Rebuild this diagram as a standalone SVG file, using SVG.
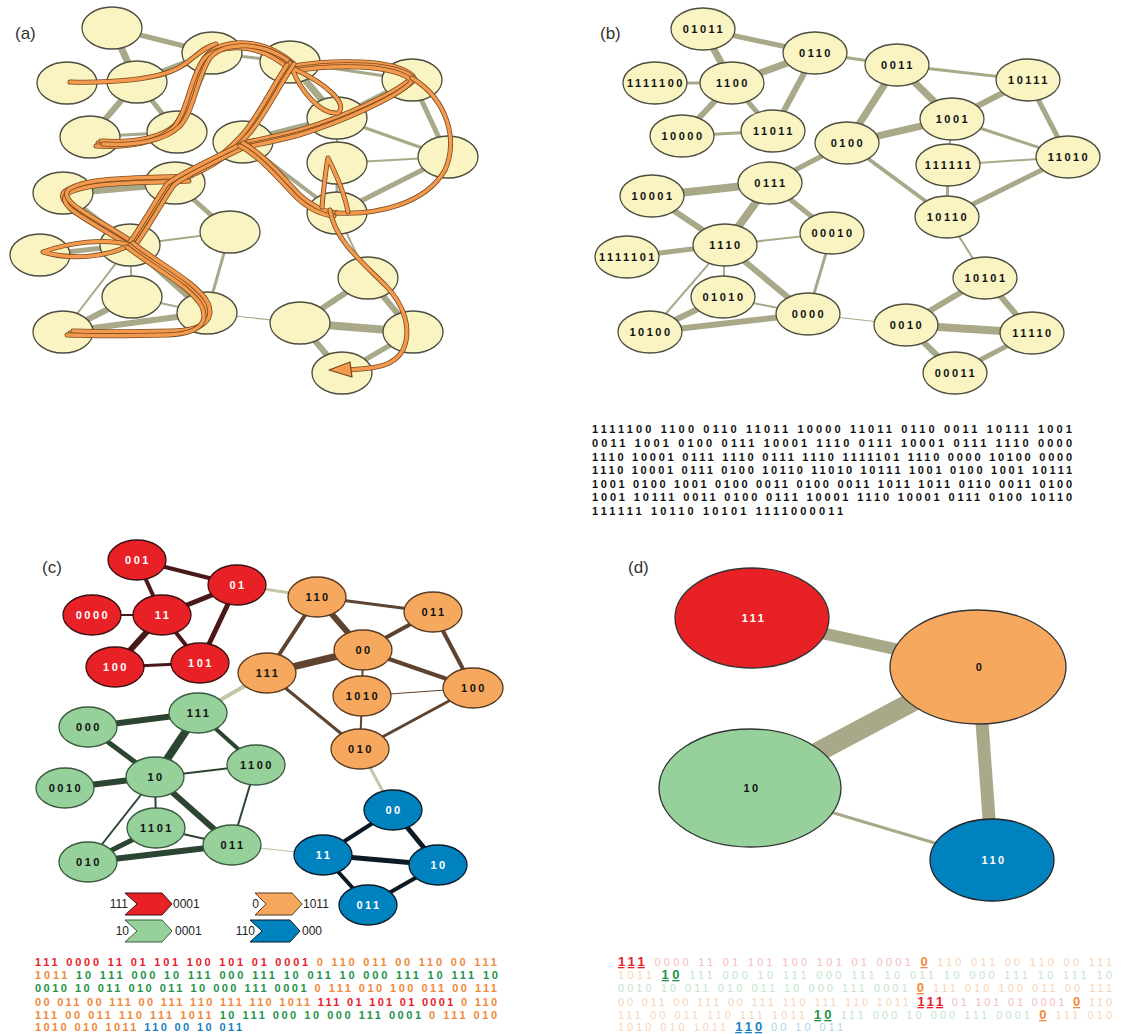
<svg xmlns="http://www.w3.org/2000/svg" xmlns:xlink="http://www.w3.org/1999/xlink" width="1130" height="1034" viewBox="0 0 1130 1034">
<style>
.bg{fill:#ffffff}
.pl{font-family:"Liberation Sans",Arial,sans-serif;font-size:17px;fill:#333}
.e{stroke:#a9a98a;fill:none}
.w1{stroke-width:1.2}.w2{stroke-width:2}.w3{stroke-width:3}.w4{stroke-width:4}.w5{stroke-width:5}.w6{stroke-width:6}.w7{stroke-width:7}.w8{stroke-width:8}
.ny{fill:#f9f4c2;stroke:#4d4d40;stroke-width:1.3}
.lb{font-family:"Liberation Sans",Arial,sans-serif;font-size:11px;font-weight:bold;letter-spacing:2.5px;text-anchor:middle;fill:#111}
.lw{fill:#fff}
.er{stroke:#4a1818}.eo{stroke:#5e4430}.eg{stroke:#2c4432}.eb{stroke:#0c1a26}.ei{stroke:#c2c7a8}
.nr{fill:#e82127;stroke:#3a1010;stroke-width:1.3}
.no{fill:#f6a95e;stroke:#5a3a20;stroke-width:1.3}
.ng{fill:#96d09a;stroke:#3a5a3e;stroke-width:1.3}
.nb{fill:#0082be;stroke:#0a1a28;stroke-width:1.3}
.to{fill:none;stroke:#7a4a1e;stroke-width:5;stroke-linecap:round;stroke-linejoin:round}
.ti{fill:none;stroke:#f39a4f;stroke-width:3.4;stroke-linecap:round;stroke-linejoin:round}
.tb{font-family:"Liberation Sans",Arial,sans-serif;font-size:11px;font-weight:bold;fill:#111}
.tc{font-family:"Liberation Sans",Arial,sans-serif;font-size:11px;font-weight:bold}
.td{font-family:"Liberation Sans",Arial,sans-serif;font-size:11px}
.cr{fill:#e8202a}.co{fill:#f0893a}.cg{fill:#22924a}.cb{fill:#1a7fc0}
.fr{fill:#f7b9bd}.fo{fill:#fbd3b4}.fg{fill:#c3e5cb}.fb{fill:#acd5ee}
.hl{font-weight:bold;font-size:13px;text-decoration:underline}
.lg{font-family:"Liberation Sans",Arial,sans-serif;font-size:12px;fill:#222}
</style>
<defs>
<path id="p1" d="M 70 82 C 110 83, 158 80, 180 67 C 195 58, 203 47, 216 44"/>
<path id="p2" d="M 98 143 C 130 145, 160 140, 175 125 C 190 108, 192 75, 205 57 C 218 40, 262 38, 293 68"/>
<path id="p3" d="M 293 66 C 330 60, 395 58, 413 76 C 400 92, 340 118, 300 130 C 275 137, 255 140, 243 143"/>
<path id="p4" d="M 292 68 C 300 90, 320 115, 338 113 C 348 105, 330 85, 292 68"/>
<path id="p5" d="M 290 63 C 272 90, 258 120, 243 135 C 225 155, 200 172, 170 180"/>
<path id="p6" d="M 187 178 C 150 180, 80 178, 64 192 C 55 205, 90 218, 130 245"/>
<path id="p7" d="M 130 245 C 145 225, 158 200, 170 183 C 180 175, 200 165, 245 143"/>
<path id="p8" d="M 130 245 C 105 238, 70 242, 43 252 C 70 260, 105 258, 130 245"/>
<path id="p9" d="M 130 245 C 155 265, 195 285, 205 305 C 212 322, 200 332, 170 333 C 130 334, 95 334, 70 333"/>
<path id="p10" d="M 243 143 C 265 155, 285 180, 300 195 C 312 206, 325 212, 337 213"/>
<path id="p11" d="M 337 213 C 375 215, 425 205, 445 170 C 458 140, 448 100, 412 78"/>
<path id="p12" d="M 322 207 C 324 185, 326 168, 328 158 C 334 170, 345 195, 348 212"/>
<path id="p13" d="M 330 210 C 335 240, 360 260, 385 285 C 405 305, 412 330, 403 350 C 393 368, 372 368, 348 370"/>
</defs>
<rect class="bg" x="0" y="0" width="1130" height="1034"/>

<text class="pl" x="15" y="39">(a)</text>
<text class="pl" x="600" y="39">(b)</text>
<text class="pl" x="42" y="573">(c)</text>
<text class="pl" x="628" y="573">(d)</text>

<!-- Panel (a) connectors -->
<g id="a-edges">
<line class="e w7" x1="112" y1="28" x2="137" y2="82"/>
<line class="e w5" x1="112" y1="28" x2="212" y2="53"/>
<line class="e w3" x1="67" y1="83" x2="137" y2="82"/>
<line class="e w7" x1="137" y1="82" x2="212" y2="53"/>
<line class="e w6" x1="137" y1="82" x2="90" y2="137"/>
<line class="e w5" x1="137" y1="82" x2="177" y2="132"/>
<line class="e w6" x1="212" y1="53" x2="177" y2="132"/>
<line class="e w3" x1="90" y1="137" x2="177" y2="132"/>
<line class="e w3" x1="212" y1="53" x2="290" y2="62"/>
<line class="e w7" x1="290" y1="62" x2="243" y2="142"/>
<line class="e w7" x1="290" y1="62" x2="337" y2="118"/>
<line class="e w3" x1="290" y1="62" x2="412" y2="80"/>
<line class="e w6" x1="412" y1="80" x2="337" y2="118"/>
<line class="e w5" x1="412" y1="80" x2="448" y2="157"/>
<line class="e w7" x1="243" y1="142" x2="337" y2="118"/>
<line class="e w2" x1="337" y1="118" x2="337" y2="163"/>
<line class="e w3" x1="337" y1="118" x2="448" y2="157"/>
<line class="e w2" x1="337" y1="163" x2="448" y2="157"/>
<line class="e w3" x1="337" y1="163" x2="337" y2="213"/>
<line class="e w5" x1="448" y1="157" x2="337" y2="213"/>
<line class="e w4" x1="243" y1="142" x2="337" y2="213"/>
<line class="e w5" x1="243" y1="142" x2="175" y2="183"/>
<line class="e w8" x1="175" y1="183" x2="63" y2="193"/>
<line class="e w8" x1="175" y1="183" x2="130" y2="245"/>
<line class="e w5" x1="175" y1="183" x2="230" y2="232"/>
<line class="e w6" x1="63" y1="193" x2="130" y2="245"/>
<line class="e w5" x1="40" y1="255" x2="130" y2="245"/>
<line class="e w2" x1="130" y1="245" x2="230" y2="232"/>
<line class="e w2" x1="130" y1="245" x2="132" y2="297"/>
<line class="e w6" x1="130" y1="245" x2="207" y2="313"/>
<line class="e w2" x1="130" y1="245" x2="63" y2="332"/>
<line class="e w3" x1="230" y1="232" x2="207" y2="313"/>
<line class="e w6" x1="132" y1="297" x2="63" y2="332"/>
<line class="e w2" x1="132" y1="297" x2="207" y2="313"/>
<line class="e w6" x1="63" y1="332" x2="207" y2="313"/>
<line class="e w1" x1="207" y1="313" x2="300" y2="323"/>
<line class="e w2" x1="337" y1="213" x2="368" y2="278"/>
<line class="e w6" x1="368" y1="278" x2="300" y2="323"/>
<line class="e w6" x1="368" y1="278" x2="413" y2="332"/>
<line class="e w8" x1="300" y1="323" x2="413" y2="332"/>
<line class="e w6" x1="300" y1="323" x2="342" y2="373"/>
<line class="e w5" x1="413" y1="332" x2="342" y2="373"/>
</g>

<!-- Panel (a) nodes -->
<g id="a-nodes">
<g id="a-01011"><ellipse class="ny" cx="112" cy="28" rx="30" ry="21"/></g>
<g id="a-0110"><ellipse class="ny" cx="212" cy="53" rx="30" ry="21"/></g>
<g id="a-0011"><ellipse class="ny" cx="290" cy="62" rx="30" ry="21"/></g>
<g id="a-10111"><ellipse class="ny" cx="412" cy="80" rx="30" ry="21"/></g>
<g id="a-1111100"><ellipse class="ny" cx="67" cy="83" rx="30" ry="21"/></g>
<g id="a-1100"><ellipse class="ny" cx="137" cy="82" rx="30" ry="21"/></g>
<g id="a-1001"><ellipse class="ny" cx="337" cy="118" rx="30" ry="21"/></g>
<g id="a-10000"><ellipse class="ny" cx="90" cy="137" rx="30" ry="21"/></g>
<g id="a-11011"><ellipse class="ny" cx="177" cy="132" rx="30" ry="21"/></g>
<g id="a-0100"><ellipse class="ny" cx="243" cy="142" rx="30" ry="21"/></g>
<g id="a-111111"><ellipse class="ny" cx="337" cy="163" rx="30" ry="21"/></g>
<g id="a-11010"><ellipse class="ny" cx="448" cy="157" rx="30" ry="21"/></g>
<g id="a-10001"><ellipse class="ny" cx="63" cy="193" rx="30" ry="21"/></g>
<g id="a-0111"><ellipse class="ny" cx="175" cy="183" rx="30" ry="21"/></g>
<g id="a-10110"><ellipse class="ny" cx="337" cy="213" rx="30" ry="21"/></g>
<g id="a-1110"><ellipse class="ny" cx="130" cy="245" rx="30" ry="21"/></g>
<g id="a-00010"><ellipse class="ny" cx="230" cy="232" rx="30" ry="21"/></g>
<g id="a-1111101"><ellipse class="ny" cx="40" cy="255" rx="30" ry="21"/></g>
<g id="a-10101"><ellipse class="ny" cx="368" cy="278" rx="30" ry="21"/></g>
<g id="a-01010"><ellipse class="ny" cx="132" cy="297" rx="30" ry="21"/></g>
<g id="a-0000"><ellipse class="ny" cx="207" cy="313" rx="30" ry="21"/></g>
<g id="a-10100"><ellipse class="ny" cx="63" cy="332" rx="30" ry="21"/></g>
<g id="a-0010"><ellipse class="ny" cx="300" cy="323" rx="30" ry="21"/></g>
<g id="a-11110"><ellipse class="ny" cx="413" cy="332" rx="30" ry="21"/></g>
<g id="a-00011"><ellipse class="ny" cx="342" cy="373" rx="30" ry="21"/></g>
</g>

<!-- Panel (a) walk -->
<g id="a-walk">
<use xlink:href="#p1" class="to"/><use xlink:href="#p1" class="ti"/>
<use xlink:href="#p2" class="to"/><use xlink:href="#p2" class="ti"/>
<use xlink:href="#p2" class="to" transform="translate(3,-2)"/><use xlink:href="#p2" class="ti" transform="translate(3,-2)"/>
<use xlink:href="#p2" class="to" transform="translate(-2,3)"/><use xlink:href="#p2" class="ti" transform="translate(-2,3)"/>
<use xlink:href="#p2" class="to" transform="translate(5,1)"/><use xlink:href="#p2" class="ti" transform="translate(5,1)"/>
<use xlink:href="#p3" class="to"/><use xlink:href="#p3" class="ti"/>
<use xlink:href="#p3" class="to" transform="translate(2,3)"/><use xlink:href="#p3" class="ti" transform="translate(2,3)"/>
<use xlink:href="#p3" class="to" transform="translate(-1,5)"/><use xlink:href="#p3" class="ti" transform="translate(-1,5)"/>
<use xlink:href="#p4" class="to"/><use xlink:href="#p4" class="ti"/>
<use xlink:href="#p5" class="to"/><use xlink:href="#p5" class="ti"/>
<use xlink:href="#p5" class="to" transform="translate(4,1)"/><use xlink:href="#p5" class="ti" transform="translate(4,1)"/>
<use xlink:href="#p5" class="to" transform="translate(-3,2)"/><use xlink:href="#p5" class="ti" transform="translate(-3,2)"/>
<use xlink:href="#p6" class="to"/><use xlink:href="#p6" class="ti"/>
<use xlink:href="#p6" class="to" transform="translate(2,3)"/><use xlink:href="#p6" class="ti" transform="translate(2,3)"/>
<use xlink:href="#p6" class="to" transform="translate(4,-2)"/><use xlink:href="#p6" class="ti" transform="translate(4,-2)"/>
<use xlink:href="#p7" class="to"/><use xlink:href="#p7" class="ti"/>
<use xlink:href="#p7" class="to" transform="translate(4,2)"/><use xlink:href="#p7" class="ti" transform="translate(4,2)"/>
<use xlink:href="#p7" class="to" transform="translate(-3,1)"/><use xlink:href="#p7" class="ti" transform="translate(-3,1)"/>
<use xlink:href="#p8" class="to"/><use xlink:href="#p8" class="ti"/>
<use xlink:href="#p9" class="to"/><use xlink:href="#p9" class="ti"/>
<use xlink:href="#p9" class="to" transform="translate(3,-2)"/><use xlink:href="#p9" class="ti" transform="translate(3,-2)"/>
<use xlink:href="#p9" class="to" transform="translate(-3,2)"/><use xlink:href="#p9" class="ti" transform="translate(-3,2)"/>
<use xlink:href="#p10" class="to"/><use xlink:href="#p10" class="ti"/>
<use xlink:href="#p10" class="to" transform="translate(-3,3)"/><use xlink:href="#p10" class="ti" transform="translate(-3,3)"/>
<use xlink:href="#p11" class="to"/><use xlink:href="#p11" class="ti"/>
<use xlink:href="#p12" class="to"/><use xlink:href="#p12" class="ti"/>
<use xlink:href="#p13" class="to"/><use xlink:href="#p13" class="ti"/>
<polygon points="329,370 350,362 352,377" fill="#f39a4f" stroke="#7a4a1e" stroke-width="1.3" stroke-linejoin="round"/>
</g>

<!-- Panel (b) connectors -->
<g id="b-edges">
<line class="e w7" x1="703" y1="29" x2="732" y2="83"/>
<line class="e w5" x1="703" y1="29" x2="815" y2="53"/>
<line class="e w3" x1="655" y1="83" x2="732" y2="83"/>
<line class="e w7" x1="732" y1="83" x2="815" y2="53"/>
<line class="e w6" x1="732" y1="83" x2="682" y2="136"/>
<line class="e w5" x1="732" y1="83" x2="773" y2="131"/>
<line class="e w6" x1="815" y1="53" x2="773" y2="131"/>
<line class="e w3" x1="682" y1="136" x2="773" y2="131"/>
<line class="e w3" x1="815" y1="53" x2="897" y2="65"/>
<line class="e w7" x1="897" y1="65" x2="847" y2="143"/>
<line class="e w7" x1="897" y1="65" x2="952" y2="119"/>
<line class="e w3" x1="897" y1="65" x2="1028" y2="80"/>
<line class="e w6" x1="1028" y1="80" x2="952" y2="119"/>
<line class="e w5" x1="1028" y1="80" x2="1068" y2="157"/>
<line class="e w7" x1="847" y1="143" x2="952" y2="119"/>
<line class="e w2" x1="952" y1="119" x2="948" y2="165"/>
<line class="e w3" x1="952" y1="119" x2="1068" y2="157"/>
<line class="e w2" x1="948" y1="165" x2="1068" y2="157"/>
<line class="e w3" x1="948" y1="165" x2="947" y2="217"/>
<line class="e w5" x1="1068" y1="157" x2="947" y2="217"/>
<line class="e w4" x1="847" y1="143" x2="947" y2="217"/>
<line class="e w5" x1="847" y1="143" x2="770" y2="183"/>
<line class="e w8" x1="770" y1="183" x2="652" y2="196"/>
<line class="e w8" x1="770" y1="183" x2="725" y2="245"/>
<line class="e w5" x1="770" y1="183" x2="832" y2="233"/>
<line class="e w6" x1="652" y1="196" x2="725" y2="245"/>
<line class="e w5" x1="627" y1="257" x2="725" y2="245"/>
<line class="e w2" x1="725" y1="245" x2="832" y2="233"/>
<line class="e w2" x1="725" y1="245" x2="723" y2="297"/>
<line class="e w6" x1="725" y1="245" x2="808" y2="314"/>
<line class="e w2" x1="725" y1="245" x2="650" y2="332"/>
<line class="e w3" x1="832" y1="233" x2="808" y2="314"/>
<line class="e w6" x1="723" y1="297" x2="650" y2="332"/>
<line class="e w2" x1="723" y1="297" x2="808" y2="314"/>
<line class="e w6" x1="650" y1="332" x2="808" y2="314"/>
<line class="e w1" x1="808" y1="314" x2="906" y2="325"/>
<line class="e w2" x1="947" y1="217" x2="985" y2="278"/>
<line class="e w6" x1="985" y1="278" x2="906" y2="325"/>
<line class="e w6" x1="985" y1="278" x2="1032" y2="333"/>
<line class="e w8" x1="906" y1="325" x2="1032" y2="333"/>
<line class="e w6" x1="906" y1="325" x2="955" y2="373"/>
<line class="e w5" x1="1032" y1="333" x2="955" y2="373"/>
</g>

<!-- Panel (b) nodes -->
<g id="b-nodes">
<g id="b-01011"><ellipse class="ny" cx="703" cy="29" rx="32" ry="21"/><text class="lb" x="704" y="33">01011</text></g>
<g id="b-0110"><ellipse class="ny" cx="815" cy="53" rx="32" ry="21"/><text class="lb" x="816" y="57">0110</text></g>
<g id="b-0011"><ellipse class="ny" cx="897" cy="65" rx="32" ry="21"/><text class="lb" x="898" y="69">0011</text></g>
<g id="b-10111"><ellipse class="ny" cx="1028" cy="80" rx="32" ry="21"/><text class="lb" x="1029" y="84">10111</text></g>
<g id="b-1111100"><ellipse class="ny" cx="655" cy="83" rx="32" ry="21"/><text class="lb" x="656" y="87">1111100</text></g>
<g id="b-1100"><ellipse class="ny" cx="732" cy="83" rx="32" ry="21"/><text class="lb" x="733" y="87">1100</text></g>
<g id="b-1001"><ellipse class="ny" cx="952" cy="119" rx="32" ry="21"/><text class="lb" x="953" y="123">1001</text></g>
<g id="b-10000"><ellipse class="ny" cx="682" cy="136" rx="32" ry="21"/><text class="lb" x="683" y="140">10000</text></g>
<g id="b-11011"><ellipse class="ny" cx="773" cy="131" rx="32" ry="21"/><text class="lb" x="774" y="135">11011</text></g>
<g id="b-0100"><ellipse class="ny" cx="847" cy="143" rx="32" ry="21"/><text class="lb" x="848" y="147">0100</text></g>
<g id="b-111111"><ellipse class="ny" cx="948" cy="165" rx="32" ry="21"/><text class="lb" x="949" y="169">111111</text></g>
<g id="b-11010"><ellipse class="ny" cx="1068" cy="157" rx="32" ry="21"/><text class="lb" x="1069" y="161">11010</text></g>
<g id="b-10001"><ellipse class="ny" cx="652" cy="196" rx="32" ry="21"/><text class="lb" x="653" y="200">10001</text></g>
<g id="b-0111"><ellipse class="ny" cx="770" cy="183" rx="32" ry="21"/><text class="lb" x="771" y="187">0111</text></g>
<g id="b-10110"><ellipse class="ny" cx="947" cy="217" rx="32" ry="21"/><text class="lb" x="948" y="221">10110</text></g>
<g id="b-1110"><ellipse class="ny" cx="725" cy="245" rx="32" ry="21"/><text class="lb" x="726" y="249">1110</text></g>
<g id="b-00010"><ellipse class="ny" cx="832" cy="233" rx="32" ry="21"/><text class="lb" x="833" y="237">00010</text></g>
<g id="b-1111101"><ellipse class="ny" cx="627" cy="257" rx="32" ry="21"/><text class="lb" x="628" y="261">1111101</text></g>
<g id="b-10101"><ellipse class="ny" cx="985" cy="278" rx="32" ry="21"/><text class="lb" x="986" y="282">10101</text></g>
<g id="b-01010"><ellipse class="ny" cx="723" cy="297" rx="32" ry="21"/><text class="lb" x="724" y="301">01010</text></g>
<g id="b-0000"><ellipse class="ny" cx="808" cy="314" rx="32" ry="21"/><text class="lb" x="809" y="318">0000</text></g>
<g id="b-10100"><ellipse class="ny" cx="650" cy="332" rx="32" ry="21"/><text class="lb" x="651" y="336">10100</text></g>
<g id="b-0010"><ellipse class="ny" cx="906" cy="325" rx="32" ry="21"/><text class="lb" x="907" y="329">0010</text></g>
<g id="b-11110"><ellipse class="ny" cx="1032" cy="333" rx="32" ry="21"/><text class="lb" x="1033" y="337">11110</text></g>
<g id="b-00011"><ellipse class="ny" cx="955" cy="373" rx="32" ry="21"/><text class="lb" x="956" y="377">00011</text></g>
</g>

<!-- Panel (b) sequence -->
<g id="b-sequence">
<text class="tb" x="592" y="433" textLength="480" lengthAdjust="spacing">1111100 1100 0110 11011 10000 11011 0110 0011 10111 1001</text>
<text class="tb" x="592" y="447" textLength="480" lengthAdjust="spacing">0011 1001 0100 0111 10001 1110 0111 10001 0111 1110 0000</text>
<text class="tb" x="592" y="461" textLength="480" lengthAdjust="spacing">1110 10001 0111 1110 0111 1110 1111101 1110 0000 10100 0000</text>
<text class="tb" x="592" y="474" textLength="480" lengthAdjust="spacing">1110 10001 0111 0100 10110 11010 10111 1001 0100 1001 10111</text>
<text class="tb" x="592" y="488" textLength="480" lengthAdjust="spacing">1001 0100 1001 0100 0011 0100 0011 1011 1011 0110 0011 0100</text>
<text class="tb" x="592" y="501" textLength="480" lengthAdjust="spacing">1001 10111 0011 0100 0111 10001 1110 10001 0111 0100 10110</text>
<text class="tb" x="592" y="515" textLength="251" lengthAdjust="spacing">111111 10110 10101 1111000011</text>
</g>

<!-- Panel (c) connectors -->
<g id="c-edges">
<line class="er w4" x1="137" y1="560" x2="237" y2="585"/>
<line class="er w4" x1="137" y1="560" x2="162" y2="615"/>
<line class="er w2" x1="92" y1="615" x2="162" y2="615"/>
<line class="er w5" x1="162" y1="615" x2="237" y2="585"/>
<line class="er w6" x1="162" y1="615" x2="115" y2="667"/>
<line class="er w4" x1="162" y1="615" x2="200" y2="663"/>
<line class="er w5" x1="237" y1="585" x2="200" y2="663"/>
<line class="er w3" x1="115" y1="667" x2="200" y2="663"/>
<line class="ei w3" x1="237" y1="585" x2="317" y2="597"/>
<line class="ei w4" x1="267" y1="673" x2="198" y2="713"/>
<line class="ei w3" x1="360" y1="749" x2="393" y2="810"/>
<line class="ei w1" x1="232" y1="845" x2="323" y2="855"/>
<line class="eo w3" x1="317" y1="597" x2="433" y2="612"/>
<line class="eo w6" x1="317" y1="597" x2="363" y2="650"/>
<line class="eo w4" x1="317" y1="597" x2="267" y2="673"/>
<line class="eo w4" x1="433" y1="612" x2="363" y2="650"/>
<line class="eo w4" x1="433" y1="612" x2="473" y2="688"/>
<line class="eo w7" x1="363" y1="650" x2="267" y2="673"/>
<line class="eo w2" x1="363" y1="650" x2="362" y2="696"/>
<line class="eo w4" x1="363" y1="650" x2="473" y2="688"/>
<line class="eo w3" x1="267" y1="673" x2="360" y2="749"/>
<line class="eo w1" x1="362" y1="696" x2="473" y2="688"/>
<line class="eo w2" x1="362" y1="696" x2="360" y2="749"/>
<line class="eo w3" x1="473" y1="688" x2="360" y2="749"/>
<line class="eg w6" x1="198" y1="713" x2="88" y2="727"/>
<line class="eg w8" x1="198" y1="713" x2="155" y2="777"/>
<line class="eg w4" x1="198" y1="713" x2="256" y2="765"/>
<line class="eg w5" x1="88" y1="727" x2="155" y2="777"/>
<line class="eg w6" x1="65" y1="788" x2="155" y2="777"/>
<line class="eg w2" x1="155" y1="777" x2="256" y2="765"/>
<line class="eg w2" x1="155" y1="777" x2="156" y2="828"/>
<line class="eg w6" x1="155" y1="777" x2="232" y2="845"/>
<line class="eg w2" x1="155" y1="777" x2="88" y2="862"/>
<line class="eg w2" x1="256" y1="765" x2="232" y2="845"/>
<line class="eg w5" x1="156" y1="828" x2="88" y2="862"/>
<line class="eg w2" x1="156" y1="828" x2="232" y2="845"/>
<line class="eg w6" x1="88" y1="862" x2="232" y2="845"/>
<line class="eb w4" x1="393" y1="810" x2="323" y2="855"/>
<line class="eb w5" x1="393" y1="810" x2="438" y2="865"/>
<line class="eb w5" x1="323" y1="855" x2="438" y2="865"/>
<line class="eb w4" x1="323" y1="855" x2="368" y2="905"/>
<line class="eb w4" x1="438" y1="865" x2="368" y2="905"/>
</g>

<!-- Panel (c) nodes -->
<g id="c-nodes">
<g id="c-r001"><ellipse class="nr" cx="137" cy="560" rx="29" ry="20"/><text class="lb lw" x="138" y="564">001</text></g>
<g id="c-r01"><ellipse class="nr" cx="237" cy="585" rx="29" ry="20"/><text class="lb lw" x="238" y="589">01</text></g>
<g id="c-r0000"><ellipse class="nr" cx="92" cy="615" rx="29" ry="20"/><text class="lb lw" x="93" y="619">0000</text></g>
<g id="c-r11"><ellipse class="nr" cx="162" cy="615" rx="29" ry="20"/><text class="lb lw" x="163" y="619">11</text></g>
<g id="c-r100"><ellipse class="nr" cx="115" cy="667" rx="29" ry="20"/><text class="lb lw" x="116" y="671">100</text></g>
<g id="c-r101"><ellipse class="nr" cx="200" cy="663" rx="29" ry="20"/><text class="lb lw" x="201" y="667">101</text></g>
<g id="c-o110"><ellipse class="no" cx="317" cy="597" rx="29" ry="20"/><text class="lb" x="318" y="601">110</text></g>
<g id="c-o011"><ellipse class="no" cx="433" cy="612" rx="29" ry="20"/><text class="lb" x="434" y="616">011</text></g>
<g id="c-o00"><ellipse class="no" cx="363" cy="650" rx="29" ry="20"/><text class="lb" x="364" y="654">00</text></g>
<g id="c-o111"><ellipse class="no" cx="267" cy="673" rx="29" ry="20"/><text class="lb" x="268" y="677">111</text></g>
<g id="c-o1010"><ellipse class="no" cx="362" cy="696" rx="29" ry="20"/><text class="lb" x="363" y="700">1010</text></g>
<g id="c-o100"><ellipse class="no" cx="473" cy="688" rx="30" ry="20"/><text class="lb" x="474" y="692">100</text></g>
<g id="c-o010"><ellipse class="no" cx="360" cy="749" rx="29" ry="20"/><text class="lb" x="361" y="753">010</text></g>
<g id="c-g111"><ellipse class="ng" cx="198" cy="713" rx="29" ry="20"/><text class="lb" x="199" y="717">111</text></g>
<g id="c-g000"><ellipse class="ng" cx="88" cy="727" rx="29" ry="20"/><text class="lb" x="89" y="731">000</text></g>
<g id="c-g1100"><ellipse class="ng" cx="256" cy="765" rx="29" ry="20"/><text class="lb" x="257" y="769">1100</text></g>
<g id="c-g10"><ellipse class="ng" cx="155" cy="777" rx="29" ry="20"/><text class="lb" x="156" y="781">10</text></g>
<g id="c-g0010"><ellipse class="ng" cx="65" cy="788" rx="29" ry="20"/><text class="lb" x="66" y="792">0010</text></g>
<g id="c-g1101"><ellipse class="ng" cx="156" cy="828" rx="29" ry="20"/><text class="lb" x="157" y="832">1101</text></g>
<g id="c-g011"><ellipse class="ng" cx="232" cy="845" rx="29" ry="20"/><text class="lb" x="233" y="849">011</text></g>
<g id="c-g010"><ellipse class="ng" cx="88" cy="862" rx="29" ry="20"/><text class="lb" x="89" y="866">010</text></g>
<g id="c-b00"><ellipse class="nb" cx="393" cy="810" rx="29" ry="20"/><text class="lb lw" x="394" y="814">00</text></g>
<g id="c-b11"><ellipse class="nb" cx="323" cy="855" rx="29" ry="20"/><text class="lb lw" x="324" y="859">11</text></g>
<g id="c-b10"><ellipse class="nb" cx="438" cy="865" rx="29" ry="20"/><text class="lb lw" x="439" y="869">10</text></g>
<g id="c-b011"><ellipse class="nb" cx="368" cy="905" rx="29" ry="20"/><text class="lb lw" x="369" y="909">011</text></g>
</g>

<!-- Panel (c) legend -->
<g id="c-legend">
<polygon points="125,893 162,893 172,904 162,915 125,915 137,904" fill="#e82127" stroke="#3a1010" stroke-width="1"/>
<text class="lg" x="128" y="908" text-anchor="end">111</text>
<text class="lg" x="173" y="908">0001</text>
<polygon points="255,893 292,893 302,904 292,915 255,915 266,904" fill="#f6a95e" stroke="#5a3a20" stroke-width="1"/>
<text class="lg" x="259" y="908" text-anchor="end">0</text>
<text class="lg" x="303" y="908">1011</text>
<polygon points="125,920 162,920 172,931 162,942 125,942 137,931" fill="#96d09a" stroke="#3a5a3e" stroke-width="1"/>
<text class="lg" x="129" y="935" text-anchor="end">10</text>
<text class="lg" x="175" y="935">0001</text>
<polygon points="250,920 290,920 300,931 290,942 250,942 262,931" fill="#0082be" stroke="#0a1a28" stroke-width="1"/>
<text class="lg" x="255" y="935" text-anchor="end">110</text>
<text class="lg" x="302" y="935">000</text>
</g>

<!-- Panel (c) coloured sequence -->
<g id="c-sequence">
<text class="tc" x="35" y="966" textLength="462" lengthAdjust="spacing"><tspan class="cr">111 0000 11 01 101 100 101 01 0001 </tspan><tspan class="co">0 110 011 00 110 00 111</tspan></text>
<text class="tc" x="35" y="979" textLength="463" lengthAdjust="spacing"><tspan class="co">1011 </tspan><tspan class="cg">10 111 000 10 111 000 111 10 011 10 000 111 10 111 10</tspan></text>
<text class="tc" x="35" y="992" textLength="462" lengthAdjust="spacing"><tspan class="cg">0010 10 011 010 011 10 000 111 0001 </tspan><tspan class="co">0 111 010 100 011 00 111</tspan></text>
<text class="tc" x="35" y="1006" textLength="462" lengthAdjust="spacing"><tspan class="co">00 011 00 111 00 111 110 111 110 1011 </tspan><tspan class="cr">111 01 101 01 0001 </tspan><tspan class="co">0 110</tspan></text>
<text class="tc" x="35" y="1019" textLength="462" lengthAdjust="spacing"><tspan class="co">111 00 011 110 111 1011 </tspan><tspan class="cg">10 111 000 10 000 111 0001 </tspan><tspan class="co">0 111 010</tspan></text>
<text class="tc" x="35" y="1031" textLength="207" lengthAdjust="spacing"><tspan class="co">1010 010 1011 </tspan><tspan class="cb">110 00 10 011</tspan></text>
</g>

<!-- Panel (d) connectors -->
<g id="d-edges">
<line class="e" stroke-width="12" x1="752" y1="618" x2="978" y2="667"/>
<line class="e" stroke-width="20" x1="750" y1="788" x2="978" y2="667"/>
<line class="e" stroke-width="13" x1="978" y1="667" x2="992" y2="860"/>
<line class="e" stroke-width="3" x1="750" y1="788" x2="992" y2="860"/>
</g>

<!-- Panel (d) nodes -->
<g id="d-nodes">
<g id="d-111"><ellipse cx="752" cy="618" rx="77" ry="50" fill="#e82127" stroke="#333" stroke-width="1.3"/><text class="lb lw" x="754" y="622">111</text></g>
<g id="d-0"><ellipse cx="978" cy="667" rx="88" ry="57" fill="#f6a95e" stroke="#333" stroke-width="1.3"/><text class="lb" x="980" y="671">0</text></g>
<g id="d-10"><ellipse cx="750" cy="788" rx="91" ry="59" fill="#96d09a" stroke="#333" stroke-width="1.3"/><text class="lb" x="752" y="792">10</text></g>
<g id="d-110"><ellipse cx="992" cy="860" rx="62" ry="41" fill="#0082be" stroke="#222" stroke-width="1.3"/><text class="lb lw" x="994" y="864">110</text></g>
</g>

<!-- Panel (d) highlighted sequence -->
<g id="d-sequence">
<text class="td" x="618" y="966" textLength="494" lengthAdjust="spacing"><tspan class="cr hl">111</tspan><tspan class="fr"> 0000 11 01 101 100 101 01 0001 </tspan><tspan class="co hl">0</tspan><tspan class="fo"> 110 011 00 110 00 111</tspan></text>
<text class="td" x="618" y="979" textLength="494" lengthAdjust="spacing"><tspan class="fo">1011 </tspan><tspan class="cg hl">10</tspan><tspan class="fg"> 111 000 10 111 000 111 10 011 10 000 111 10 111 10</tspan></text>
<text class="td" x="618" y="992" textLength="494" lengthAdjust="spacing"><tspan class="fg">0010 10 011 010 011 10 000 111 0001 </tspan><tspan class="co hl">0</tspan><tspan class="fo"> 111 010 100 011 00 111</tspan></text>
<text class="td" x="618" y="1006" textLength="494" lengthAdjust="spacing"><tspan class="fo">00 011 00 111 00 111 110 111 110 1011 </tspan><tspan class="cr hl">111</tspan><tspan class="fr"> 01 101 01 0001 </tspan><tspan class="co hl">0</tspan><tspan class="fo"> 110</tspan></text>
<text class="td" x="618" y="1019" textLength="494" lengthAdjust="spacing"><tspan class="fo">111 00 011 110 111 1011 </tspan><tspan class="cg hl">10</tspan><tspan class="fg"> 111 000 10 000 111 0001 </tspan><tspan class="co hl">0</tspan><tspan class="fo"> 111 010</tspan></text>
<text class="td" x="618" y="1031" textLength="225" lengthAdjust="spacing"><tspan class="fo">1010 010 1011 </tspan><tspan class="cb hl">110</tspan><tspan class="fb"> 00 10 011</tspan></text>
</g>
</svg>
